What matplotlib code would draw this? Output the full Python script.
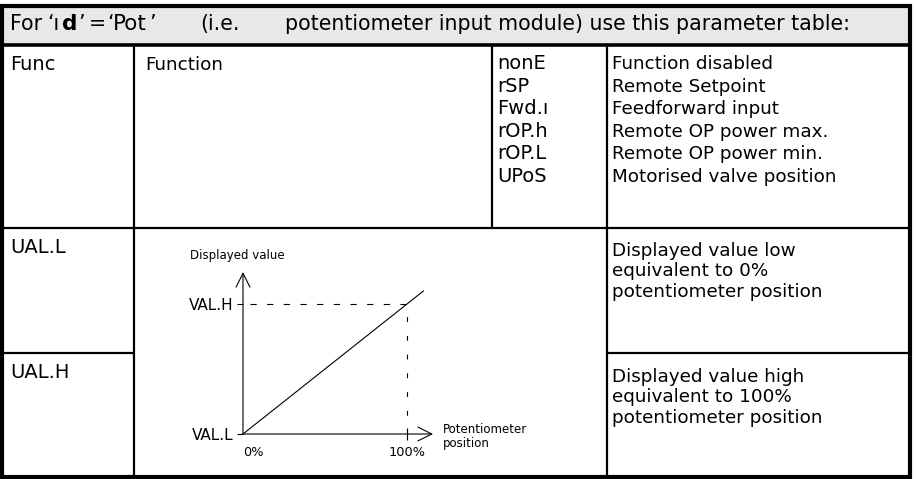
import matplotlib
matplotlib.use("Agg")
import matplotlib.pyplot as plt
from matplotlib.patches import Rectangle

plt.rcParams['lines.scale_dashes'] = False

# ---------------- data ----------------
title_main = "potentiometer input module) use this parameter table:"
param_codes = ["Func", "UAL.L", "UAL.H"]
param_names = ["Function"]
option_codes = ["nonE", "rSP", "Fwd.ı", "rOP.h", "rOP.L", "UPoS"]
option_descs = ["Function disabled", "Remote Setpoint", "Feedforward input",
                "Remote OP power max.", "Remote OP power min.",
                "Motorised valve position"]
val_descs = [["Displayed value low", "equivalent to 0%", "potentiometer position"],
             ["Displayed value high", "equivalent to 100%", "potentiometer position"]]
# diagram: potentiometer position (%) vs displayed value (VAL.L=0, VAL.H=1)
pot_pct = [0, 110]
disp_val = [0, 1.10]
x_ticks = [0, 100]
x_ticklabels = ["0%", "100%"]
y_ticks = [0, 1]
y_ticklabels = ["VAL.L", "VAL.H"]

W, H = 916, 479
fig = plt.figure(figsize=(W / 100, H / 100), dpi=100)
ax = fig.add_axes([0, 0, 1, 1])
ax.set_xlim(0, W)
ax.set_ylim(H, 0)
ax.axis('off')

SANS = "DejaVu Sans"
SEG = "DejaVu Sans"
BODY = 13.2
SEGSZ = 14

# header background
ax.add_patch(Rectangle((3, 6), 906, 38, facecolor='#e8e8e8', edgecolor='none', zorder=0))
# outer border
ax.add_patch(Rectangle((2, 5.5), 908, 471.5, fill=False, lw=3, edgecolor='black', zorder=3))
# header bottom line
ax.plot([2, 910], [44.5, 44.5], color='black', lw=2.6, solid_capstyle='butt')
# vertical lines
ax.plot([134, 134], [45, 476], color='black', lw=1.6, solid_capstyle='butt')
ax.plot([492, 492], [45, 228], color='black', lw=1.6, solid_capstyle='butt')
ax.plot([607, 607], [45, 476], color='black', lw=1.6, solid_capstyle='butt')
# horizontal lines
ax.plot([2, 910], [228, 228], color='black', lw=1.6, solid_capstyle='butt')
ax.plot([2, 134], [353, 353], color='black', lw=1.6, solid_capstyle='butt')
ax.plot([607, 910], [353, 353], color='black', lw=1.6, solid_capstyle='butt')

# header text
ty = 30
TS = 14.8
ax.text(10, ty, "For", fontsize=TS, family=SANS, va='baseline')
ax.text(47, ty, "‘ı", fontsize=TS, family=SEG, va='baseline')
ax.text(62, ty, "d", fontsize=15.5, family=SEG, fontweight='bold', va='baseline')
ax.text(78, ty, "’", fontsize=TS, family=SANS, va='baseline')
ax.text(89, ty, "=", fontsize=TS, family=SANS, va='baseline')
ax.text(107, ty, "‘", fontsize=TS, family=SANS, va='baseline')
ax.text(113, ty, "Pot", fontsize=15.5, family=SEG, va='baseline')
ax.text(149, ty, "’", fontsize=TS, family=SANS, va='baseline')
ax.text(200, ty, "(i.e.", fontsize=TS, family=SANS, va='baseline')
ax.text(285, ty, title_main, fontsize=TS, family=SANS, va='baseline')

# first column codes
code_y = [70, 253, 378]
for c, y in zip(param_codes, code_y):
    ax.text(10, y, c, fontsize=SEGSZ, family=SEG, va='baseline')
ax.text(145, 70, param_names[0], fontsize=BODY, family=SANS, va='baseline')

# option list
y0, dy = 69, 22.6
for i, (c, d) in enumerate(zip(option_codes, option_descs)):
    y = y0 + i * dy
    ax.text(497, y, c, fontsize=SEGSZ, family=SEG, va='baseline')
    ax.text(612, y, d, fontsize=BODY, family=SANS, va='baseline')

# VAL descriptions
for lines, yb in zip(val_descs, [256, 382]):
    for j, line in enumerate(lines):
        ax.text(612, yb + j * 20.5, line, fontsize=BODY, family=SANS, va='baseline')

# ---------------- diagram ----------------
ox, oy = 243, 434
tipx, tipy = 433, 272
dax = fig.add_axes([ox / W, (H - oy) / H, (tipx - ox) / W, (oy - tipy) / H])
xmax = (tipx - ox) / (407 - ox) * 100
ymax = (oy - tipy) / (oy - 304)
dax.set_xlim(0, xmax)
dax.set_ylim(0, ymax)
dax.patch.set_alpha(0)
for s in dax.spines.values():
    s.set_visible(False)

dax.plot(pot_pct, disp_val, color='black', lw=0.8, clip_on=False)
dax.plot([0, 100], [1, 1], color='black', lw=0.8,
         linestyle=(-5, (4.5, 7.5)))
dax.plot([100, 100], [0, 1], color='black', lw=0.8,
         linestyle=(0, (3.5, 10)))

arrow = dict(arrowstyle='->,head_length=1.0,head_width=0.5', lw=0.8,
             color='black', shrinkA=0, shrinkB=0)
dax.annotate('', xy=(1, 0), xytext=(0, 0), xycoords='axes fraction',
             textcoords='axes fraction', arrowprops=arrow)
dax.annotate('', xy=(0, 1), xytext=(0, 0), xycoords='axes fraction',
             textcoords='axes fraction', arrowprops=arrow)

dax.set_xticks(x_ticks)
dax.set_xticklabels(x_ticklabels, fontsize=9.3, family=SANS)
dax.set_yticks(y_ticks)
dax.set_yticklabels(y_ticklabels, fontsize=11, family=SANS)
dax.tick_params(axis='x', direction='inout', length=9, width=0.8, pad=4)
dax.tick_params(axis='y', direction='out', length=4, width=0.8, pad=3)
dax.xaxis.get_major_ticks()[0].tick1line.set_visible(False)
dax.get_xticklabels()[0].set_horizontalalignment('left')

ax.text(190, 259, "Displayed value", fontsize=8.5, family=SANS, va='baseline')
ax.text(443, 433, "Potentiometer", fontsize=8.5, family=SANS, va='baseline')
ax.text(443, 447, "position", fontsize=8.5, family=SANS, va='baseline')

fig.savefig("out.png", dpi=100)
